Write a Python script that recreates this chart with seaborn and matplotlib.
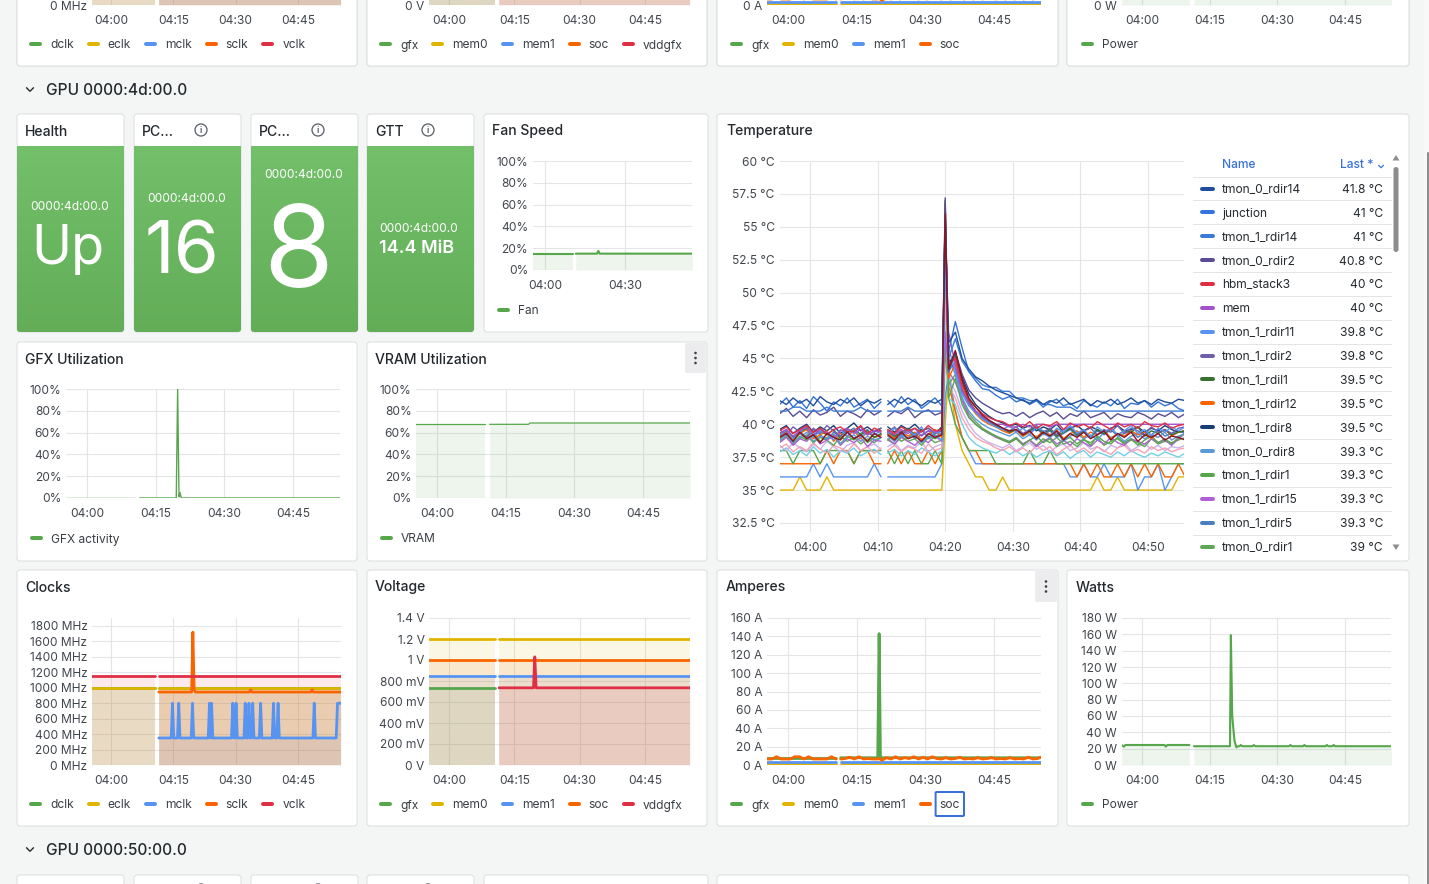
import numpy as np
import pandas as pd
import matplotlib
matplotlib.use("Agg")
import matplotlib.pyplot as plt
import seaborn as sns
from matplotlib.patches import FancyBboxPatch, Circle, Polygon

nan = np.nan

# =========================== DATA ===========================
# time is in minutes relative to 04:00
X15 = [0, 15, 30, 45]
X15_LAB = ["04:00", "04:15", "04:30", "04:45"]
X10 = [0, 10, 20, 30, 40, 50]
X10_LAB = ["04:00", "04:10", "04:20", "04:30", "04:40", "04:50"]
X30 = [0, 30]
X30_LAB = ["04:00", "04:30"]

STAT_TITLES = ["Health", "PC...", "PC...", "GTT"]
STAT_NAME = "0000:4d:00.0"
STAT_VALUES = ["Up", "16", "8", "14.4 MiB"]

FAN_T = [-4.5, 10.5, 11.0, 11.5, 19.5, 20.0, 20.5, 55.3]
FAN_V = [15, 15, nan, 15, 15, 17.5, 15, 15]

GFX_T = [-4.5, 10.5, 11.0, 11.5, 19.5, 19.8, 20.1, 20.3, 20.6, 55.3]
GFX_V = [0, 0, nan, 0, 0, 100, 1, 5, 0, 0]

VRAM_T = [-4.5, 10.5, 11.0, 11.5, 20.0, 20.3, 55.3]
VRAM_V = [67.6, 67.6, nan, 67.6, 67.6, 68.8, 68.8]

CLK_T = [-4.5, 10.5, 11.0, 11.5, 55.3]
DCLK = [1000, 1000, nan, 1000, 1000]
ECLK = [1000, 1000, nan, 1000, 1000]
VCLK = [1150, 1150, nan, 1150, 1150]
SCLK_T = [11.5, 19.4, 19.7, 20.0, 20.3, 33.3, 33.6, 33.9, 48.1, 48.4, 48.7, 55.3]
SCLK = [945, 945, 1720, 980, 945, 945, 975, 945, 945, 975, 945, 945]
MCLK_T = [11.5, 14.5, 14.8, 15.1, 16.0, 16.3, 16.6, 19.3, 19.6, 19.9,
          23.4, 23.7, 23.95, 24.2, 24.5, 29.0, 29.3, 29.6, 29.8, 30.1, 30.4,
          32.0, 32.3, 32.6, 32.9, 33.2, 33.5, 33.8, 34.1, 34.4, 35.7, 36.0, 36.3,
          38.8, 39.1, 39.4, 39.9, 40.2, 40.5, 48.6, 48.9, 49.2, 54.2, 54.5, 55.3]
MCLK = [350, 350, 800, 350, 350, 800, 350, 350, 800, 350,
        350, 800, 350, 800, 350, 350, 800, 350, 350, 800, 350,
        350, 800, 350, 350, 800, 350, 350, 800, 350, 350, 800, 350,
        350, 800, 350, 350, 800, 350, 350, 800, 350, 350, 800, 800]

VOLT_T = [-4.5, 10.5, 11.0, 11.5, 55.3]
V_MEM0 = [1.2, 1.2, nan, 1.2, 1.2]
V_MEM1 = [0.848, 0.848, nan, 0.848, 0.848]
V_SOC = [1.0, 1.0, nan, 1.0, 1.0]
V_GFX_T = [-4.5, 10.5]
V_GFX = [0.735, 0.735]
V_VDD_T = [11.5, 19.4, 19.7, 20.0, 55.3]
V_VDD = [0.735, 0.735, 1.03, 0.735, 0.735]

# shared sampling grid (temperature + soc current): 16 points, gap, 46 points
T_SEG1 = np.arange(-4.5, 11.0, 1.0)
T_SEG2 = np.r_[np.arange(11.5, 20.0, 1.0), 20.0, np.arange(20.5, 56.0, 1.0)]

AMP_SOC = ([6.5, 6.5, 9.0, 6.5, 6.5, 6.5, 9.0, 9.0, 6.5, 9.0, 6.5, 6.5, 6.5, 6.5, 9.0, 6.5] +
           [6.5, 7.0, 8.5, 6.5, 9.0, 6.5, 7.0, 6.5, 6.5] + [7.0] +
           [5.0, 8.0, 6.5, 9.0, 6.5, 8.0, 7.0, 9.0, 6.5, 8.5, 6.5, 9.0, 7.0, 6.5, 8.0, 6.5, 7.0, 8.5,
            6.5, 7.0, 6.5, 8.0, 6.5, 7.0, 8.0, 6.5, 7.0, 6.5, 8.0, 6.5, 7.0, 6.5, 8.5, 6.5, 7.0, 9.0])
AMP_GFX_T = [-4.5, 10.5, 11.0, 11.5, 19.6, 19.9, 20.2, 55.3]
AMP_GFX = [7.9, 7.9, nan, 7.9, 7.9, 143, 7.9, 7.9]
AMP_C_T = [-4.5, 10.5, 11.0, 11.5, 55.3]
AMP_MEM0 = [0.8, 0.8, nan, 0.8, 0.8]
AMP_MEM1 = [3.0, 3.0, nan, 3.0, 3.0]

PW_T = [-4.5, -4.0, -3.7, -3.4, 5.0, 5.3, 5.6, 10.5, 11.0, 11.5, 19.5, 19.7, 20.0, 20.2,
        20.5, 20.9, 21.3, 21.6, 21.9, 22.2, 24.5, 24.8, 25.1, 32.6, 32.9, 33.2, 35.7, 36.0,
        36.3, 40.7, 41.0, 41.3, 42.2, 42.5, 42.8, 55.3]
PW_V = [24.5, 22.5, 24.5, 24.5, 24.5, 22.5, 24.5, 24.5, nan, 23.0, 23.0, 159, 60, 47.7,
        30, 21.7, 23.0, 23.0, 24.5, 23.0, 23.0, 24.5, 23.0, 23.0, 24.5, 23.0, 23.0, 24.5,
        23.0, 23.0, 24.5, 23.0, 23.0, 24.5, 23.0, 23.0]

# temperature series (°C): 16 pre-gap samples, 9 samples, spike at 04:20, 36 samples
tmon_0_rdir14 = ([41.8, 41.5, 42.0, 41.6, 41.9, 41.4, 42.1, 41.7, 41.5, 41.9, 41.6, 42.0, 41.4, 41.8, 41.6, 41.9] +
                 [41.5, 41.9, 41.6, 42.0, 41.7, 41.4, 41.8, 41.6, 41.9] + [55.5] +
                 [46.2, 47.0, 45.0, 44.2, 43.6, 43.3, 42.9, 42.6, 42.4, 42.2, 42.0, 41.8, 41.6, 41.9, 41.5, 41.8, 41.6, 42.0,
                  41.5, 41.7, 41.9, 41.4, 41.8, 41.6, 41.9, 41.5, 41.7, 42.0, 41.6, 41.8, 41.5, 41.9, 41.7, 41.6, 41.9, 41.8])
junction = ([41.5, 42.0, 41.3, 41.8, 41.2, 42.1, 41.6, 41.0, 41.7, 41.4, 42.0, 41.3, 41.6, 41.9, 41.2, 41.7] +
            [41.8, 41.3, 42.1, 41.5, 41.9, 41.2, 41.6, 42.0, 41.4] + [56.0] +
            [45.5, 47.8, 45.8, 44.0, 43.3, 42.7, 42.6, 42.2, 41.9, 42.1, 41.7, 41.9, 41.5, 41.8, 41.3, 41.7, 41.9, 41.4,
             41.6, 41.2, 41.8, 41.5, 41.3, 41.7, 41.4, 41.9, 41.2, 41.6, 41.5, 41.8, 41.3, 41.7, 41.4, 41.6, 41.2, 41.0])
tmon_1_rdir14 = ([41.0, 41.0, 41.3, 41.3, 41.0, 41.0, 41.0, 41.3, 41.0, 41.0, 41.0, 41.0, 41.3, 41.0, 41.0, 41.0] +
                 [41.0, 41.0, 41.0, 41.3, 41.0, 41.0, 41.0, 41.0, 41.0] + [54.5] +
                 [45.0, 46.5, 44.8, 44.0, 43.5, 43.0, 42.8, 42.8, 42.5, 42.5, 42.0, 42.0, 41.8, 41.8, 41.5, 41.5, 41.3, 41.3,
                  41.3, 41.0, 41.0, 41.0, 41.0, 41.0, 41.0, 41.0, 41.0, 41.0, 41.0, 41.0, 41.0, 41.0, 41.0, 41.0, 41.0, 41.0])
tmon_0_rdir2 = ([40.8, 41.2, 40.6, 41.0, 40.5, 41.1, 40.7, 40.9, 41.3, 40.6, 41.0, 40.8, 40.5, 41.1, 40.7, 41.0] +
                [40.6, 41.0, 40.8, 41.2, 40.5, 40.9, 41.1, 40.7, 40.9] + [57.2] +
                [44.0, 45.5, 43.8, 42.6, 42.0, 41.6, 41.3, 41.0, 40.8, 40.9, 40.6, 40.9, 40.5, 40.8, 41.0, 40.6, 40.9, 40.4,
                 40.8, 40.6, 41.0, 40.5, 40.7, 40.9, 40.4, 40.8, 40.6, 40.5, 40.9, 40.7, 40.4, 40.8, 40.6, 40.9, 40.5, 40.8])
hbm_stack3 = ([39.5, 39.8, 39.3, 39.6, 39.9, 39.4, 39.7, 39.2, 39.6, 39.8, 39.4, 39.5, 39.9, 39.3, 39.7, 39.5] +
              [39.6, 39.3, 39.8, 39.5, 39.7, 39.4, 39.9, 39.5, 39.6] + [56.5] +
              [44.5, 45.0, 43.0, 41.9, 41.3, 40.8, 40.5, 40.3, 40.2, 39.9, 40.1, 39.8, 40.2, 39.7, 40.0, 39.9, 40.2, 39.6,
               40.1, 39.8, 40.0, 39.7, 40.2, 39.9, 39.6, 40.1, 39.8, 40.0, 39.7, 40.2, 39.9, 39.8, 40.1, 39.7, 39.9, 40.0])
mem = ([39.3, 39.6, 39.1, 39.5, 39.8, 39.2, 39.6, 39.4, 39.0, 39.5, 39.7, 39.3, 39.6, 39.2, 39.5, 39.4] +
       [39.5, 39.2, 39.6, 39.3, 39.7, 39.1, 39.5, 39.4, 39.6] + [55.0] +
       [47.0, 44.5, 42.5, 41.6, 41.0, 40.6, 40.3, 40.0, 40.0, 39.8, 39.8, 40.0, 39.8, 40.0, 40.0, 39.8, 40.0, 40.0,
        40.0, 40.0, 40.0, 40.0, 40.0, 40.0, 40.0, 40.0, 40.0, 40.0, 40.0, 40.0, 40.0, 40.0, 40.0, 40.0, 40.0, 40.0])
tmon_1_rdir11 = ([39.2, 39.6, 38.9, 39.4, 39.8, 39.0, 39.5, 39.3, 38.8, 39.6, 39.1, 39.7, 39.0, 39.4, 39.2, 39.5] +
                 [39.3, 39.7, 39.0, 39.5, 39.2, 39.8, 38.9, 39.4, 39.3] + [52.0] +
                 [45.8, 44.0, 42.3, 41.4, 40.9, 40.4, 40.1, 39.8, 39.6, 39.9, 39.4, 39.7, 39.2, 39.8, 39.5, 39.1, 39.7, 39.4,
                  39.9, 39.3, 39.6, 39.0, 39.8, 39.4, 39.7, 39.2, 39.5, 39.9, 39.3, 39.6, 39.1, 39.7, 39.4, 39.8, 39.5, 39.8])
tmon_1_rdir2 = ([39.6, 39.2, 39.8, 39.4, 39.0, 39.7, 39.3, 39.9, 39.5, 39.1, 39.6, 39.4, 39.8, 39.2, 39.5, 39.7] +
                [39.4, 39.8, 39.2, 39.6, 39.0, 39.5, 39.7, 39.3, 39.5] + [53.5] +
                [44.8, 44.2, 42.6, 41.6, 41.0, 40.5, 40.2, 40.0, 39.7, 39.5, 39.8, 39.3, 39.6, 39.9, 39.4, 39.7, 39.2, 39.6,
                 39.8, 39.3, 39.5, 39.7, 39.2, 39.6, 39.4, 39.9, 39.3, 39.7, 39.5, 39.2, 39.8, 39.4, 39.6, 39.3, 39.7, 39.8])
tmon_1_rdil1 = ([39.3, 39.6, 39.0, 39.4, 39.7, 39.1, 39.5, 39.2, 39.6, 38.9, 39.4, 39.7, 39.2, 39.5, 39.0, 39.3] +
                [39.5, 39.1, 39.4, 39.7, 39.2, 39.6, 39.0, 39.3, 39.5] + [57.0] +
                [44.2, 45.2, 43.2, 41.8, 41.0, 40.5, 40.2, 39.9, 39.7, 39.4, 39.6, 39.2, 39.5, 39.8, 39.3, 39.6, 39.1, 39.4,
                 39.7, 39.2, 39.5, 39.0, 39.6, 39.3, 39.7, 39.2, 39.5, 39.4, 39.8, 39.1, 39.5, 39.3, 39.6, 39.2, 39.4, 39.5])
tmon_1_rdir12 = ([39.0, 39.4, 38.8, 39.3, 39.6, 38.9, 39.2, 39.5, 38.7, 39.3, 39.1, 39.5, 38.9, 39.4, 39.0, 39.2] +
                 [39.3, 38.9, 39.5, 39.1, 39.4, 38.8, 39.2, 39.6, 39.0] + [56.8] +
                 [43.5, 44.6, 42.8, 41.5, 40.8, 40.3, 40.0, 39.8, 39.5, 39.3, 39.6, 39.1, 39.4, 39.0, 39.5, 39.2, 39.6, 38.9,
                  39.3, 39.5, 39.0, 39.4, 39.2, 39.6, 38.9, 39.3, 39.1, 39.5, 39.2, 39.4, 38.9, 39.3, 39.6, 39.1, 39.4, 39.5])
tmon_1_rdir8 = ([39.6, 39.9, 39.3, 39.7, 40.0, 39.4, 39.8, 39.5, 39.9, 39.3, 39.7, 40.1, 39.5, 39.8, 39.4, 39.7] +
                [39.8, 39.4, 39.9, 39.6, 40.0, 39.5, 39.7, 39.3, 39.8] + [55.8] +
                [44.6, 45.4, 43.6, 42.3, 41.5, 41.0, 40.6, 40.3, 40.1, 39.9, 40.0, 39.7, 39.9, 39.5, 39.8, 39.6, 40.0, 39.4,
                 39.7, 39.9, 39.5, 39.8, 39.6, 39.3, 39.7, 39.9, 39.5, 39.6, 39.8, 39.4, 39.7, 39.5, 39.9, 39.6, 39.4, 39.5])
tmon_0_rdir8 = ([38.8, 39.2, 38.6, 39.0, 39.4, 38.7, 39.1, 38.9, 39.3, 38.5, 39.0, 39.2, 38.7, 39.1, 38.8, 39.0] +
                [39.1, 38.7, 39.2, 38.9, 39.3, 38.6, 39.0, 39.2, 38.8] + [54.0] +
                [45.0, 43.8, 42.0, 41.0, 40.4, 40.0, 39.7, 39.5, 39.3, 39.1, 39.4, 38.9, 39.2, 38.8, 39.3, 39.0, 39.4, 38.7,
                 39.1, 39.3, 38.9, 39.2, 38.8, 39.4, 39.0, 39.2, 38.7, 39.1, 39.3, 38.9, 39.2, 39.0, 39.4, 38.8, 39.1, 39.3])
tmon_1_rdir1 = ([38.9, 39.3, 38.6, 39.1, 38.8, 39.4, 38.7, 39.0, 39.2, 38.5, 39.1, 38.8, 39.3, 38.6, 39.0, 39.2] +
                [38.8, 39.2, 38.7, 39.0, 39.3, 38.6, 39.1, 38.9, 39.2] + [56.2] +
                [42.0, 43.5, 41.5, 40.5, 40.0, 39.6, 39.3, 39.1, 38.8, 38.6, 38.9, 38.4, 38.8, 39.1, 38.6, 38.9, 38.3, 38.8,
                 39.0, 38.5, 38.9, 38.4, 39.1, 38.7, 38.5, 39.0, 38.6, 38.9, 38.4, 38.8, 39.1, 38.6, 38.9, 38.5, 39.0, 39.3])
tmon_1_rdir15 = ([38.6, 39.0, 38.4, 38.9, 38.7, 39.2, 38.5, 38.8, 39.1, 38.4, 38.9, 38.6, 39.0, 38.3, 38.8, 38.7] +
                 [38.9, 38.5, 39.0, 38.7, 38.4, 38.9, 38.6, 39.1, 38.7] + [47.0] +
                 [44.0, 43.2, 41.8, 40.6, 40.0, 39.6, 39.3, 39.0, 38.8, 38.6, 38.9, 38.5, 38.8, 38.3, 38.7, 39.0, 38.5, 38.8,
                  38.4, 38.9, 38.6, 38.3, 38.8, 38.5, 39.0, 38.6, 38.4, 38.9, 38.7, 38.5, 38.9, 38.6, 38.8, 38.4, 38.9, 39.3])
tmon_1_rdir5 = ([39.1, 39.5, 38.9, 39.3, 39.0, 39.6, 39.2, 38.8, 39.4, 39.1, 39.5, 38.9, 39.3, 39.6, 39.0, 39.2] +
                [39.4, 39.0, 39.3, 39.6, 38.9, 39.2, 39.5, 39.1, 39.3] + [55.2] +
                [44.0, 44.8, 43.0, 41.7, 41.0, 40.5, 40.1, 39.8, 39.6, 39.4, 39.6, 39.1, 39.4, 39.7, 39.2, 39.5, 39.0, 39.3,
                 39.6, 39.1, 39.4, 39.0, 39.5, 39.2, 39.6, 39.1, 39.3, 39.5, 39.0, 39.4, 39.2, 39.6, 39.1, 39.3, 39.5, 39.3])
tmon_0_rdir1 = ([38.7, 39.1, 38.5, 38.9, 39.2, 38.6, 39.0, 38.8, 38.4, 39.1, 38.7, 39.0, 38.5, 38.9, 38.6, 39.0] +
                [38.8, 38.5, 39.1, 38.7, 38.9, 38.4, 39.0, 38.6, 38.8] + [53.0] +
                [43.0, 43.8, 42.0, 40.8, 40.2, 39.7, 39.4, 39.1, 38.9, 38.7, 39.0, 38.5, 38.8, 38.4, 38.9, 38.6, 39.0, 38.5,
                 38.7, 38.3, 38.8, 38.6, 39.0, 38.4, 38.7, 38.9, 38.5, 38.8, 38.6, 38.3, 38.9, 38.5, 38.7, 38.6, 38.8, 39.0])
tmon_0_rdir5 = ([39.0, 39.3, 38.7, 39.4, 38.9, 39.2, 38.6, 39.3, 39.0, 38.8, 39.4, 38.9, 39.2, 38.7, 39.3, 39.0] +
                [39.2, 38.8, 39.4, 38.9, 39.1, 38.7, 39.3, 39.0, 39.2] + [56.0] +
                [44.2, 45.6, 43.4, 42.0, 41.3, 40.7, 40.3, 40.0, 39.7, 39.5, 39.6, 39.2, 39.5, 38.9, 39.4, 39.1, 39.5, 38.8,
                 39.3, 39.0, 39.4, 38.9, 39.2, 39.5, 38.8, 39.3, 39.0, 39.4, 38.7, 39.2, 39.0, 39.3, 38.8, 39.1, 39.0, 38.8])
tmon_0_rdir12 = ([38.2, 38.5, 37.9, 38.3, 38.0, 38.6, 38.1, 37.8, 38.4, 38.2, 37.9, 38.5, 38.0, 38.3, 37.8, 38.2] +
                 [38.0, 38.4, 37.9, 38.3, 38.1, 37.8, 38.5, 38.0, 38.2] + [50.0] +
                 [43.0, 42.0, 40.5, 39.6, 39.0, 38.7, 38.5, 38.2, 38.0, 38.3, 37.9, 38.2, 37.8, 38.4, 38.0, 38.3, 37.7, 38.1,
                  38.4, 37.9, 38.2, 37.8, 38.3, 38.0, 37.7, 38.2, 38.4, 37.9, 38.1, 37.8, 38.3, 38.0, 38.2, 37.9, 38.1, 38.2])
tmon_0_rdir11 = ([37.9, 38.2, 37.7, 38.0, 37.6, 38.3, 37.8, 38.1, 37.5, 38.0, 37.8, 38.2, 37.6, 37.9, 38.1, 37.7] +
                 [37.8, 38.1, 37.6, 38.0, 37.7, 38.2, 37.9, 37.6, 38.0] + [48.5] +
                 [42.0, 41.5, 40.0, 39.0, 38.5, 38.2, 38.0, 37.8, 38.1, 37.7, 38.0, 37.6, 37.9, 37.5, 37.8, 38.0, 37.6, 37.9,
                  37.4, 37.8, 38.0, 37.5, 37.9, 37.7, 37.5, 37.9, 37.6, 38.0, 37.7, 37.5, 37.8, 37.6, 37.9, 37.7, 37.5, 37.8])
tmon_0_rdir15 = ([38.4, 38.0, 38.6, 38.2, 37.9, 38.5, 38.1, 38.7, 38.3, 37.9, 38.4, 38.6, 38.0, 38.3, 38.5, 38.1] +
                 [38.3, 38.6, 38.0, 38.4, 38.2, 38.7, 37.9, 38.3, 38.5] + [49.0] +
                 [43.5, 42.5, 41.0, 40.0, 39.3, 38.9, 38.6, 38.4, 38.2, 38.5, 38.0, 38.3, 38.6, 38.1, 38.4, 37.9, 38.3, 38.5,
                  38.0, 38.2, 38.6, 38.1, 38.3, 37.9, 38.4, 38.2, 38.6, 38.0, 38.3, 38.5, 38.1, 38.4, 38.0, 38.3, 38.2, 38.4])
vr_soc = ([37, 37, 37, 37, 37, 37, 37, 38, 37, 38, 38, 37, 38, 38, 37, 37] +
          [37, 38, 37, 38, 37, 37, 38, 37, 38] + [46] +
          [43, 41, 39, 38, 38, 37, 37, 37, 37, 37, 37, 37, 37, 37, 37, 37, 37, 37,
           37, 36, 37, 36, 37, 36, 36, 37, 36, 37, 36, 37, 36, 37, 36, 36, 37, 36])
vr_mem = ([36, 36, 36, 36, 36, 37, 36, 37, 36, 36, 36, 36, 36, 36, 37, 36] +
          [36, 36, 36, 36, 36, 36, 36, 36, 37] + [42] +
          [44, 41, 39, 38, 37, 37, 37, 37, 37, 37, 37, 37, 37, 37, 37, 37, 37, 37,
           36, 36, 37, 36, 36, 37, 36, 36, 36, 37, 35, 36, 36, 37, 35, 36, 37, 37])
vr_gfx = ([35, 35, 35, 36, 35, 35, 35, 36, 35, 35, 35, 35, 35, 35, 35, 35] +
          [35, 35, 35, 35, 35, 35, 35, 35, 35] + [40] +
          [44, 40, 38, 37, 36, 36, 35, 35, 36, 35, 35, 35, 35, 35, 35, 35, 35, 35,
           35, 35, 35, 35, 36, 35, 35, 36, 35, 35, 35, 35, 35, 35, 35, 35, 36, 36])
hbm_stack0 = ([38, 38, 37, 38, 38, 38, 37, 38, 38, 38, 38, 37, 38, 38, 38, 38] +
              [38, 37, 38, 37, 38, 37, 37, 38, 37] + [46] +
              [42, 40, 39, 38, 38, 38, 38, 37, 37, 37, 37, 37, 38, 37, 37, 38, 37, 37,
               37, 37, 37, 37, 37, 37, 37, 37, 37, 37, 37, 37, 37, 37, 37, 37, 37, 37])

TEMP_LEGEND = ["tmon_0_rdir14", "junction", "tmon_1_rdir14", "tmon_0_rdir2", "hbm_stack3", "mem",
               "tmon_1_rdir11", "tmon_1_rdir2", "tmon_1_rdil1", "tmon_1_rdir12", "tmon_1_rdir8",
               "tmon_0_rdir8", "tmon_1_rdir1", "tmon_1_rdir15", "tmon_1_rdir5", "tmon_0_rdir1"]
TEMP_DATA = {
    "vr_gfx": vr_gfx, "vr_mem": vr_mem, "vr_soc": vr_soc, "hbm_stack0": hbm_stack0,
    "tmon_0_rdir11": tmon_0_rdir11, "tmon_0_rdir15": tmon_0_rdir15, "tmon_0_rdir12": tmon_0_rdir12,
    "tmon_0_rdir1": tmon_0_rdir1, "tmon_1_rdir5": tmon_1_rdir5, "tmon_1_rdir15": tmon_1_rdir15,
    "tmon_1_rdir1": tmon_1_rdir1, "tmon_0_rdir8": tmon_0_rdir8, "tmon_1_rdir8": tmon_1_rdir8,
    "tmon_1_rdir12": tmon_1_rdir12, "tmon_1_rdil1": tmon_1_rdil1, "tmon_1_rdir2": tmon_1_rdir2,
    "tmon_1_rdir11": tmon_1_rdir11, "mem": mem, "hbm_stack3": hbm_stack3,
    "tmon_0_rdir2": tmon_0_rdir2, "tmon_1_rdir14": tmon_1_rdir14, "junction": junction,
    "tmon_0_rdir14": tmon_0_rdir14, "tmon_0_rdir5": tmon_0_rdir5,
}
TEMP_COLORS = {
    "tmon_0_rdir14": "#1f4e9c", "junction": "#3274d9", "tmon_1_rdir14": "#3a7bd5",
    "tmon_0_rdir2": "#5a4b94", "hbm_stack3": "#e02f44", "mem": "#a352cc",
    "tmon_1_rdir11": "#5794f2", "tmon_1_rdir2": "#6f5fab", "tmon_1_rdil1": "#37702f",
    "tmon_1_rdir12": "#fa6400", "tmon_1_rdir8": "#163f76", "tmon_0_rdir8": "#5b9ad6",
    "tmon_1_rdir1": "#56a64b", "tmon_1_rdir15": "#b05fd6", "tmon_1_rdir5": "#4a7fc0",
    "tmon_0_rdir1": "#5fa855", "tmon_0_rdir5": "#8a1420", "tmon_0_rdir12": "#f4a3b4",
    "tmon_0_rdir11": "#70d0e8", "tmon_0_rdir15": "#c9b3ee", "vr_soc": "#fa6400",
    "vr_mem": "#5794f2", "vr_gfx": "#e0b400", "hbm_stack0": "#56a64b",
}

# =========================== STYLE ===========================
sns.set_theme(style="white")
plt.rcParams["font.family"] = ["Inter", "DejaVu Sans"]

W, H = 1429, 884
PT = 0.72                      # points per pixel at 100 dpi
PAGE = "#f4f5f5"
TXT = "#24292e"
TICK = "#41464d"
LEGT = "#3a3f45"
GRID = "#e4e5e7"
BORDER = "#dcdee1"
GREEN, YELLOW, BLUE, ORANGE, RED = "#56a64b", "#e0b400", "#5794f2", "#fa6400", "#e02f44"
LINKBLUE = "#3871dc"
XMIN, XMAX = -4.5, 55.3

fig = plt.figure(figsize=(W / 100, H / 100), dpi=100, facecolor=PAGE)
bg = fig.add_axes([0, 0, 1, 1])
bg.set_xlim(0, W)
bg.set_ylim(H, 0)
bg.axis("off")


def box(x0, y0, x1, y1, fc="white", ec=BORDER, lw=1.0, r=3, z=1):
    p = FancyBboxPatch((x0, y0), x1 - x0, y1 - y0, boxstyle=f"round,pad=0,rounding_size={r}",
                       fc=fc, ec=ec, lw=lw * PT, zorder=z)
    bg.add_patch(p)
    return p


def txt(x, y, s, size=12, color=TXT, ha="left", va="center", weight="normal", z=6):
    if va == "center":
        y = y + 1.5
    return bg.text(x, y, s, fontsize=size * PT, color=color, ha=ha, va=va,
                   fontweight=weight, zorder=z)


def pill(x, y, color, w=13, z=6):
    bg.plot([x + 2, x + w - 2], [y, y], color=color, lw=4 * PT, solid_capstyle="round", zorder=z)


def legend(x, y, names, colors, focus=None):
    r = fig.canvas.get_renderer()
    for n in names:
        pill(x, y, colors[n])
        t = txt(x + 21, y, n, size=12, color=LEGT)
        bb = t.get_window_extent(renderer=r)
        if n == focus:
            box(x + 21 - 4, y - 12, x + 21 + bb.width + 4, y + 12, fc="none", ec=LINKBLUE, lw=2, r=1, z=7)
        x = x + 21 + bb.width + 13


def menu(x0, y0, x1, y1):
    box(x0, y0, x1, y1, fc="#ececee", ec="none", r=2, z=2)
    cx = (x0 + x1) / 2
    cy = (y0 + y1) / 2
    for d in (-5, 0, 5):
        bg.add_patch(Circle((cx, cy + d), 1.3, fc="#3a3f45", ec="none", zorder=3))


def info_icon(x, y):
    bg.add_patch(Circle((x, y), 6, fc="none", ec="#5b6169", lw=1.3 * PT, zorder=6))
    txt(x, y - 1, "i", size=8, color="#5b6169", ha="center", weight="bold")


def chevron(x, y, color=TXT, s=3.5, lw=1.4):
    bg.plot([x - s, x, x + s], [y - s / 2, y + s / 2, y - s / 2], color=color, lw=lw * PT,
            solid_capstyle="round", zorder=6)


def taxes(x_t0, x_t45, ytop, ybot, ylim, dy=0):
    s = (x_t45 - x_t0) / 45.0
    left = x_t0 + XMIN * s
    right = x_t0 + XMAX * s
    ax = fig.add_axes([left / W, 1 - (ybot + dy) / H, (right - left) / W, (ybot - ytop) / H])
    ax.set_facecolor("none")
    ax._ylim_keep = ylim
    return ax


def finish(ax, xt, xl, yt, yl, ylab_ticks=None):
    ax.set_xlim(XMIN, XMAX)
    ax.set_ylim(*ax._ylim_keep)
    for sp in ax.spines.values():
        sp.set_visible(False)
    ax.set_xticks(xt, labels=xl)
    ax.set_yticks(yt, labels=yl)
    ax.grid(True, color=GRID, lw=0.8)
    ax.set_axisbelow(True)
    ax.tick_params(length=0, labelsize=12 * PT, labelcolor=TICK)
    ax.tick_params(axis="x", pad=7)
    ax.tick_params(axis="y", pad=3.5)
    ax.set_xlabel("")
    ax.set_ylabel("")


def draw(ax, series, colors, lw, fill=0.0, z=3):
    rows = []
    for name, (t, v) in series.items():
        t = np.asarray(t, float)
        v = np.asarray(v, float)
        bad = np.isnan(t) | np.isnan(v)
        seg = np.cumsum(bad)
        for ti, vi, si in zip(t[~bad], v[~bad], seg[~bad]):
            rows.append((name, int(si), ti, vi))
        if fill > 0:
            for s in np.unique(seg[~bad]):
                m = (~bad) & (seg == s)
                ax.fill_between(t[m], 0, v[m], color=colors[name], alpha=fill, lw=0, zorder=1)
    df = pd.DataFrame(rows, columns=["series", "seg", "t", "v"])
    pal = {k: colors[k] for k in series}
    sns.lineplot(data=df, x="t", y="v", hue="series", hue_order=list(series), units="seg",
                 estimator=None, palette=pal, linewidth=lw, legend=False, ax=ax, sort=False, zorder=z)


def gapped(v):
    v = list(v)
    return np.r_[v[:16], nan, v[16:]]


T_FULL = np.r_[T_SEG1, nan, T_SEG2]

PCT_T = [0, 20, 40, 60, 80, 100]
PCT_L = [f"{v}%" for v in PCT_T]

# =========================== PANEL BACKGROUNDS ===========================
for x0, x1 in [(17, 357), (367, 707), (717, 1058), (1067, 1409)]:
    box(x0, -20, x1, 66)
for x0, x1 in [(17, 124), (134, 241), (251, 358), (367, 474), (484, 708), (717, 1409)]:
    box(x0, 875, x1, 905)
for x in (201, 318, 428):
    bg.add_patch(Circle((x, 890), 6, fc="none", ec="#5b6169", lw=1.3 * PT, zorder=6))

chevron(30, 89.5)
txt(46, 89, "GPU 0000:4d:00.0", size=15.5, weight="medium")
chevron(30, 849.5)
txt(46, 849, "GPU 0000:50:00.0", size=15.5, weight="medium")

# page scrollbar
bg.add_patch(plt.Rectangle((1424, 0), 5, H, fc="#f8f8f8", ec="none", zorder=0.5))
bg.plot([1428, 1428], [153, H], color="#8c8c8c", lw=2 * PT, zorder=1)

# =========================== STAT PANELS ===========================
stat_x = [(17, 124), (134, 241), (251, 358), (367, 474)]
c_top = np.array([0.450, 0.750, 0.415])
c_bot = np.array([0.390, 0.680, 0.345])
grad = (c_top[None, :] * (1 - np.linspace(0, 1, 64))[:, None] +
        c_bot[None, :] * np.linspace(0, 1, 64)[:, None])[:, None, :]
for i, (x0, x1) in enumerate(stat_x):
    p = box(x0, 114, x1, 332)
    im = bg.imshow(grad, extent=(x0, x1, 332, 146), aspect="auto", zorder=2, interpolation="bilinear")
    im.set_clip_path(p)
    txt(x0 + 8, 130, STAT_TITLES[i], size=14, weight="medium")
    if i > 0:
        info_icon(x0 + 67 if i < 3 else x0 + 61, 130)
bg.set_xlim(0, W)
bg.set_ylim(H, 0)

txt(70, 205, STAT_NAME, size=12, color="white", ha="center")
txt(68, 264, STAT_VALUES[0], size=54, color="white", ha="center", va="baseline")
txt(187, 197, STAT_NAME, size=12, color="white", ha="center")
txt(182, 273, STAT_VALUES[1], size=73, color="white", ha="center", va="baseline")
txt(304, 174, STAT_NAME, size=12, color="white", ha="center")
txt(298, 287, STAT_VALUES[2], size=113, color="white", ha="center", va="baseline")
txt(379, 228, STAT_NAME, size=12, color="white", ha="left")
txt(379, 253, STAT_VALUES[3], size=18, color="white", ha="left", va="baseline", weight="semibold")

# =========================== FAN SPEED ===========================
box(484, 114, 708, 332)
txt(492, 130, "Fan Speed", size=14, weight="medium")
ax = taxes(545, 545 + 1.5 * 80, 161, 270, (0, 100))
draw(ax, {"Fan": (FAN_T, FAN_V)}, {"Fan": GREEN}, lw=1.5, fill=0.1)
finish(ax, X30, X30_LAB, PCT_T, PCT_L)
legend(497, 310, ["Fan"], {"Fan": GREEN})

# =========================== TEMPERATURE ===========================
box(717, 114, 1409, 561)
txt(726, 130, "Temperature", size=14, weight="medium")
ax = taxes(810, 810 + 4.5 * 67.6, 161, 532.2, (31.8, 60))
tser = {k: (T_FULL, gapped(v)) for k, v in TEMP_DATA.items()}
draw(ax, tser, TEMP_COLORS, lw=1.0)
TEMP_YT = [32.5, 35, 37.5, 40, 42.5, 45, 47.5, 50, 52.5, 55, 57.5, 60]
finish(ax, X10, X10_LAB, TEMP_YT, [f"{v:g} °C" for v in TEMP_YT])

# legend table
txt(1222, 164, "Name", size=12, color=LINKBLUE, weight="medium")
txt(1374, 164, "Last *", size=12, color=LINKBLUE, ha="right", weight="medium")
chevron(1381, 166.5, color=LINKBLUE, s=2.5, lw=1.2)
bg.plot([1193, 1391], [177, 177], color="#e3e4e6", lw=1 * PT, zorder=5)
for i, name in enumerate(TEMP_LEGEND):
    yc = 188.5 + 23.87 * i
    pill(1200, yc, TEMP_COLORS[name], w=15)
    txt(1222, yc, name, size=12, color=TXT)
    txt(1383, yc, f"{TEMP_DATA[name][-1]:g} °C", size=12, color=TXT, ha="right")
    if i < len(TEMP_LEGEND) - 1:
        bg.plot([1193, 1391], [yc + 11.9, yc + 11.9], color="#e3e4e6", lw=1 * PT, zorder=5)
bg.add_patch(Polygon([(1392.5, 160.5), (1399.5, 160.5), (1396, 155)], closed=True, fc="#8e8e8e", ec="none", zorder=6))
bg.add_patch(Polygon([(1392.5, 544.5), (1399.5, 544.5), (1396, 550)], closed=True, fc="#8e8e8e", ec="none", zorder=6))
box(1393.5, 167, 1398.5, 252, fc="#8d8d8d", ec="none", r=2.5, z=6)

# =========================== GFX / VRAM ===========================
box(17, 342, 357, 561)
txt(25, 358, "GFX Utilization", size=14, weight="medium")
ax = taxes(87, 293, 389, 498, (0, 100))
draw(ax, {"GFX activity": (GFX_T, GFX_V)}, {"GFX activity": GREEN}, lw=1.0)
finish(ax, X15, X15_LAB, PCT_T, PCT_L)
legend(30, 538, ["GFX activity"], {"GFX activity": GREEN})

box(367, 342, 707, 561)
txt(375, 358, "VRAM Utilization", size=14, weight="medium")
menu(685, 343, 706, 373)
ax = taxes(437, 643, 389, 498, (0, 100))
draw(ax, {"VRAM": (VRAM_T, VRAM_V)}, {"VRAM": GREEN}, lw=0.9, fill=0.1)
finish(ax, X15, X15_LAB, PCT_T, PCT_L)
legend(380, 538, ["VRAM"], {"VRAM": GREEN})

# =========================== BOTTOM ROW (and cut-off copy on top) ===========================
CLK_COL = {"dclk": GREEN, "eclk": YELLOW, "mclk": BLUE, "sclk": ORANGE, "vclk": RED}
VOLT_COL = {"gfx": GREEN, "mem0": YELLOW, "mem1": BLUE, "soc": ORANGE, "vddgfx": RED}
AMP_COL = {"gfx": GREEN, "mem0": YELLOW, "mem1": BLUE, "soc": ORANGE}
PW_COL = {"Power": GREEN}

CLK_YT = list(range(0, 1801, 200))
VOLT_YT = [0, 0.2, 0.4, 0.6, 0.8, 1.0, 1.2, 1.4]
VOLT_YL = ["0 V", "200 mV", "400 mV", "600 mV", "800 mV", "1 V", "1.2 V", "1.4 V"]
AMP_YT = list(range(0, 161, 20))
PW_YT = list(range(0, 181, 20))


def labels_for(yt, yl, full):
    # the cut-off copy at the top only keeps the label that is inside the picture
    return (yt, yl) if full else (yt, [yl[0]] + [""] * (len(yl) - 1))


def bottom_row(dy, full):
    # Clocks
    box(17, 570 + dy, 357, 826 + dy)
    if full:
        txt(25, 586 + dy, "Clocks", size=14, weight="medium")
    a = taxes(111, 298, 617.5, 765, (0, 1910), dy)
    draw(a, {"dclk": (CLK_T, DCLK), "eclk": (CLK_T, ECLK), "mclk": (MCLK_T, MCLK),
             "sclk": (SCLK_T, SCLK), "vclk": (CLK_T, VCLK)}, CLK_COL, lw=2.0, fill=0.1)
    finish(a, X15, X15_LAB, *labels_for(CLK_YT, [f"{v} MHz" for v in CLK_YT], full))
    legend(29, 804 + dy, list(CLK_COL), CLK_COL)

    # Voltage
    box(367, 570 + dy, 707, 826 + dy)
    if full:
        txt(375, 586 + dy, "Voltage", size=14, weight="medium")
    a = taxes(449, 645, 618, 765, (0, 1.4), dy)
    draw(a, {"gfx": (V_GFX_T, V_GFX), "mem0": (VOLT_T, V_MEM0), "mem1": (VOLT_T, V_MEM1),
             "soc": (VOLT_T, V_SOC), "vddgfx": (V_VDD_T, V_VDD)}, VOLT_COL, lw=2.0, fill=0.1)
    finish(a, X15, X15_LAB, *labels_for(VOLT_YT, VOLT_YL, full))
    legend(379, 804 + dy, list(VOLT_COL), VOLT_COL)

    # Amperes
    box(717, 570 + dy, 1058, 826 + dy)
    if full:
        txt(726, 586 + dy, "Amperes", size=14, weight="medium")
        menu(1035, 571 + dy, 1057, 602 + dy)
    a = taxes(788, 994, 618, 765, (0, 160), dy)
    draw(a, {"mem0": (AMP_C_T, AMP_MEM0), "mem1": (AMP_C_T, AMP_MEM1),
             "gfx": (AMP_GFX_T, AMP_GFX), "soc": (T_FULL, gapped(AMP_SOC))}, AMP_COL, lw=2.0)
    finish(a, X15, X15_LAB, *labels_for(AMP_YT, [f"{v} A" for v in AMP_YT], full))
    legend(730, 804 + dy, list(AMP_COL), AMP_COL, focus="soc" if full else None)

    # Watts
    box(1067, 570 + dy, 1409, 826 + dy)
    if full:
        txt(1076, 586 + dy, "Watts", size=14, weight="medium")
    a = taxes(1142, 1345, 618, 765, (0, 180), dy)
    draw(a, {"Power": (PW_T, PW_V)}, PW_COL, lw=1.5, fill=0.1)
    finish(a, X15, X15_LAB, *labels_for(PW_YT, [f"{v} W" for v in PW_YT], full))
    legend(1081, 804 + dy, ["Power"], PW_COL)


bottom_row(0, True)
bottom_row(-760, False)

bg.set_xlim(0, W)
bg.set_ylim(H, 0)
fig.savefig("out.png", dpi=100, facecolor=PAGE)
